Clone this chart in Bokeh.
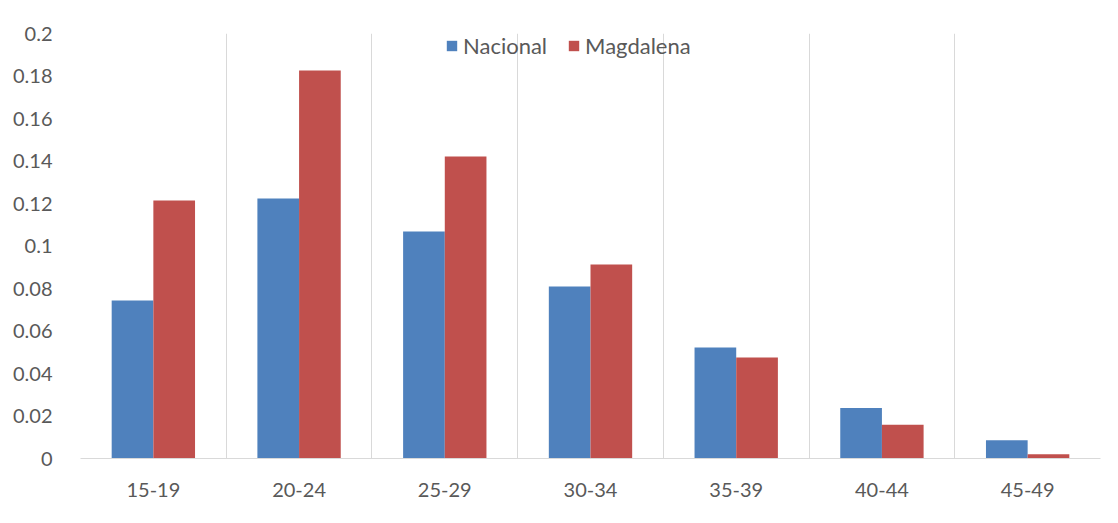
from bokeh.plotting import figure
from bokeh.models import (FactorRange, Range1d, FixedTicker, CustomJSTickFormatter,
                          Legend, LegendItem, ColumnDataSource)
from bokeh.transform import dodge
from bokeh.embed import file_html
from bokeh.resources import INLINE

categories = ["15-19", "20-24", "25-29", "30-34", "35-39", "40-44", "45-49"]
nacional = [0.0744, 0.1224, 0.1068, 0.0810, 0.0522, 0.0238, 0.0086]
magdalena = [0.1214, 0.1826, 0.1421, 0.0913, 0.0475, 0.0159, 0.0020]
series_names = ["Nacional", "Magdalena"]
y_ticks = [0, 0.02, 0.04, 0.06, 0.08, 0.1, 0.12, 0.14, 0.16, 0.18, 0.2]

FONT = "Lato"
TXT = "#595959"
GRID = "#d9d9d9"

source = ColumnDataSource(dict(cat=categories, nac=nacional, mag=magdalena))

p = figure(x_range=FactorRange(factors=categories, range_padding=0),
           y_range=Range1d(0, 0.2),
           width=1102, height=507,
           output_backend="svg", toolbar_location=None,
           min_border_left=80, min_border_right=2,
           min_border_top=33, min_border_bottom=49)
p.background_fill_color = "white"
p.border_fill_color = "white"
p.outline_line_color = None

r1 = p.vbar(x=dodge("cat", -0.143, range=p.x_range), top="nac", width=0.286,
            source=source, fill_color="#4F81BD", line_color=None)
r2 = p.vbar(x=dodge("cat", 0.143, range=p.x_range), top="mag", width=0.286,
            source=source, fill_color="#C0504D", line_color=None)

p.ygrid.visible = False
p.xgrid.ticker = FixedTicker(ticks=list(range(len(categories) + 1)))
p.xgrid.grid_line_color = GRID
p.xgrid.grid_line_width = 1

p.yaxis.ticker = FixedTicker(ticks=y_ticks)
p.yaxis.formatter = CustomJSTickFormatter(code="return String(+tick.toFixed(2));")
p.yaxis.axis_line_color = None
p.yaxis.major_tick_line_color = None
p.yaxis.minor_tick_line_color = None
p.yaxis.major_label_standoff = 22
p.yaxis.major_label_text_font = FONT
p.yaxis.major_label_text_font_size = "20px"
p.yaxis.major_label_text_color = TXT

p.xaxis.axis_line_color = GRID
p.xaxis.major_tick_line_color = None
p.xaxis.minor_tick_line_color = None
p.xaxis.major_label_standoff = 18
p.xaxis.major_label_text_font = FONT
p.xaxis.major_label_text_font_size = "20px"
p.xaxis.major_label_text_color = TXT

legend = Legend(items=[LegendItem(label=series_names[0], renderers=[r1]),
                       LegendItem(label=series_names[1], renderers=[r2])],
                orientation="horizontal", location=(365, 399),
                padding=0, margin=0, spacing=20, label_standoff=5,
                glyph_width=13, glyph_height=13,
                label_text_font=FONT, label_text_font_size="22px",
                label_text_color=TXT,
                border_line_color=None, background_fill_alpha=0)
p.add_layout(legend)

open("out.html", "w").write(file_html(p, INLINE))
